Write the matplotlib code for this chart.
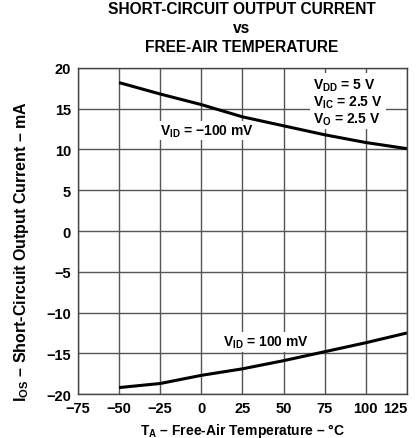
import matplotlib
matplotlib.use("Agg")
import matplotlib.pyplot as plt

temps = [-50, -25, 0, 25, 50, 75, 100, 125]
ios_neg = [18.2, 16.8, 15.5, 14.0, 12.9, 11.8, 10.85, 10.1]
ios_pos = [-19.2, -18.7, -17.7, -16.9, -15.9, -14.8, -13.7, -12.5]
xticks = [-75, -50, -25, 0, 25, 50, 75, 100, 125]
yticks = [20, 15, 10, 5, 0, -5, -10, -15, -20]

plt.rcParams['font.family'] = ['Liberation Sans', 'DejaVu Sans']
plt.rcParams['font.weight'] = 'bold'
plt.rcParams['mathtext.fontset'] = 'custom'
plt.rcParams['mathtext.rm'] = 'Liberation Sans:bold'
plt.rcParams['mathtext.it'] = 'Liberation Sans:bold'
plt.rcParams['mathtext.bf'] = 'Liberation Sans:bold'

fig = plt.figure(figsize=(4.17, 4.39), dpi=100)
ax = fig.add_axes([0.187, 0.100, 0.789, 0.743])

ax.plot(temps, ios_neg, color='black', lw=2.2, solid_capstyle='butt')
ax.plot(temps, ios_pos, color='black', lw=2.2, solid_capstyle='butt')

ax.set_xlim(-75, 125)
ax.set_ylim(-20, 20)
ax.set_xticks(xticks)
ax.set_yticks(yticks)
ax.set_xticklabels(['\u221275', '\u221250', '\u221225', '0', '25', '50', '75', '100', '125'])
ax.set_yticklabels(['20', '15', '10', '5', '0', '\u22125', '\u221210', '\u221215', '\u221220'])
ax.tick_params(length=0, labelsize=10.5, pad=5)
xl = ax.get_xticklabels()
for lab in xl + ax.get_yticklabels():
    lab.set_fontweight('bold')
xl[-1].set_horizontalalignment('right')
ax.grid(True, color='#555555', lw=1.0)
for s in ax.spines.values():
    s.set_color('#444444')
    s.set_linewidth(1.0)

ax.set_xlabel(r'$\mathrm{T_A}$' + ' \u2013 Free-Air Temperature \u2013 \u00b0C',
              fontsize=10, fontweight='bold', labelpad=4)
ax.set_ylabel(r'$\mathrm{I_{OS}}$' + ' \u2013 Short-Circuit Output Current \u2013 mA',
              fontsize=11.5, fontweight='bold')
ax.yaxis.set_label_coords(-0.143, 0.439)

ax.text(-25.2, 12.3, r'$\mathrm{V_{ID}}$' + ' = \u2212100 mV', fontsize=10, fontweight='bold',
        ha='left', va='center', bbox=dict(facecolor='white', edgecolor='none', pad=1))
ax.text(13.1, -13.6, r'$\mathrm{V_{ID}}$' + ' = 100 mV', fontsize=10, fontweight='bold',
        ha='left', va='center', bbox=dict(facecolor='white', edgecolor='none', pad=1))
ax.text(68, 15.9, r'$\mathrm{V_{DD}}$' + ' = 5 V\n' + r'$\mathrm{V_{IC}}$' + ' = 2.5 V\n' + r'$\mathrm{V_{O}}$' + ' = 2.5 V',
        fontsize=10, fontweight='bold', ha='left', va='center', linespacing=1.05,
        bbox=dict(facecolor='white', edgecolor='none', pad=2))

fig.text(0.58, 0.996, 'SHORT-CIRCUIT OUTPUT CURRENT\nvs\nFREE-AIR TEMPERATURE',
         ha='center', va='top', fontsize=11.2, fontweight='bold', linespacing=1.35)

fig.savefig('out.png', dpi=100)
